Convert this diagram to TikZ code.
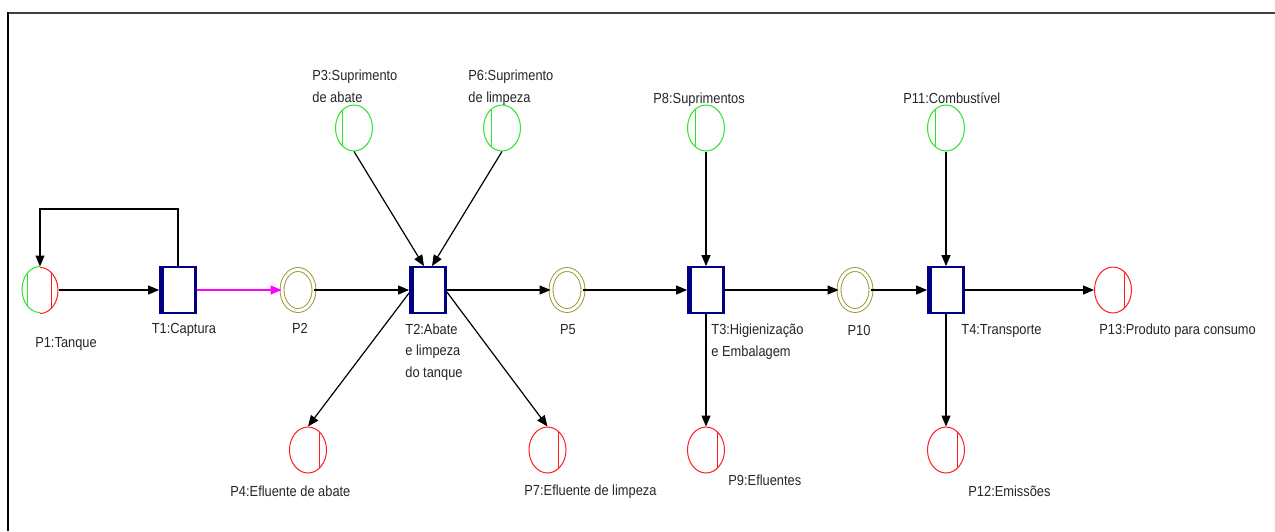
\documentclass[tikz,border=0pt]{standalone}
\usepackage{fontspec}
\setmainfont{Liberation Sans}[FakeStretch=0.88]
\usetikzlibrary{shapes.geometric,arrows.meta,calc}
\definecolor{pgreen}{RGB}{40,230,40}
\definecolor{pred}{RGB}{255,30,30}
\definecolor{tnavy}{RGB}{0,0,128}
\definecolor{polive}{RGB}{150,150,40}
\definecolor{fire}{RGB}{255,0,255}

\begin{document}
\begin{tikzpicture}[x=0.5pt,y=0.5pt,
  pl/.style={ellipse,minimum width=18.5pt,minimum height=23pt,inner sep=0pt,line width=0.5pt},
  pin/.style={pl,draw=pgreen},
  pout/.style={pl,draw=pred},
  pmid/.style={ellipse,minimum width=16pt,minimum height=20.5pt,inner sep=0pt,draw=polive,
    line width=0.45pt,double=white,double distance=1.5pt},
  trn/.style={rectangle,draw=tnavy,line width=0.9pt,minimum width=18pt,minimum height=23pt,
    inner sep=0pt,fill=white},
  flow/.style={line width=0.6pt,-{Triangle[length=5.5pt,width=4.5pt]}},
  lbl/.style={inner sep=0pt,font=\fontsize{7.3}{10.75}\selectfont,align=left,text=black!85},
]
\useasboundingbox (0,0) rectangle (1275,-531);
\fill[white] (0,0) rectangle (1275,-531);

% frame
\draw[line width=1pt,black!75] (7,-13.3) -- (1275,-13.3);
\draw[line width=1pt] (7.7,-12.3) -- (7.7,-531);

% places and transitions
\node[pl,minimum width=18pt] (P1) at (40,-290) {};
\node[trn] (T1) at (178,-290) {};
\node[pmid] (P2) at (298,-290) {};
\node[trn] (T2) at (428,-290) {};
\node[pmid] (P5) at (567,-290) {};
\node[trn] (T3) at (706,-290) {};
\node[pmid] (P10) at (855,-290) {};
\node[trn] (T4) at (946,-290) {};
\node[pout] (P13) at (1113,-290) {};

\node[pin] (P3) at (354,-128) {};
\node[pin] (P6) at (502,-128) {};
\node[pin] (P8) at (706,-128) {};
\node[pin] (P11) at (946,-128) {};

\node[pout] (P4) at (308,-450) {};
\node[pout] (P7) at (547.5,-450) {};
\node[pout] (P9) at (706,-450) {};
\node[pout] (P12) at (946,-450) {};

% P1: half green, half red
\draw[pgreen,line width=0.5pt] (P1.north) arc[start angle=90,end angle=270,x radius=9pt,y radius=11.5pt];
\draw[pred,line width=0.5pt] (P1.south) arc[start angle=-90,end angle=90,x radius=9pt,y radius=11.5pt];
\draw[pgreen,line width=0.5pt] ([shift={(P1.center)}]136:18 and 23) -- ([shift={(P1.center)}]224:18 and 23);
\draw[pred,line width=0.5pt] ([shift={(P1.center)}]52:18 and 23) -- ([shift={(P1.center)}]-52:18 and 23);

% chords inside the places
\foreach \p in {P3,P6,P8,P11}
  \draw[pgreen,line width=0.5pt] ([shift={(\p.center)}]126.5:18.5 and 23) -- ([shift={(\p.center)}]233.5:18.5 and 23);
\foreach \p in {P4,P7,P9,P12,P13}
  \draw[pred,line width=0.5pt] ([shift={(\p.center)}]53.5:18.5 and 23) -- ([shift={(\p.center)}]-53.5:18.5 and 23);

% heavier side edges of the transitions
\foreach \t in {T1,T2,T3,T4}{
  \draw[tnavy,line width=2.5pt] ([xshift=1.25pt]\t.north west) -- ([xshift=1.25pt]\t.south west);
  \draw[tnavy,line width=1.6pt] ([xshift=-0.8pt]\t.north east) -- ([xshift=-0.8pt]\t.south east);
}

% labels (multi-line labels are placed by the baseline of their last line)
\node[lbl,anchor=base] (lP1) at (66,-347) {P1:Tanque};
\node[lbl,anchor=base] (lT1) at (184,-333) {T1:Captura};
\node[lbl,anchor=base] (lP2) at (300,-333) {P2};
\node[lbl,anchor=base west] (lP3) at (312,-102) {P3:Suprimento\\de abate};
\node[lbl,anchor=base west] (lP6) at (468,-102) {P6:Suprimento\\de limpeza};
\node[lbl,anchor=base west] (lT2) at (405,-377) {T2:Abate\\e limpeza\\do tanque};
\node[lbl,anchor=base] (lP5) at (568,-334) {P5};
\node[lbl,anchor=base west] (lP4) at (230,-496) {P4:Efluente de abate};
\node[lbl,anchor=base west] (lP7) at (524,-495) {P7:Efluente de limpeza};
\node[lbl,anchor=base west] (lP8) at (653,-103) {P8:Suprimentos};
\node[lbl,anchor=base west] (lT3) at (711,-356) {T3:Higienização\\e Embalagem};
\node[lbl,anchor=base] (lP10) at (859,-335) {P10};
\node[lbl,anchor=base west] (lP9) at (728,-485) {P9:Efluentes};
\node[lbl,anchor=base west] (lP11) at (903,-103) {P11:Combustível};
\node[lbl,anchor=base west] (lT4) at (961,-334) {T4:Transporte};
\node[lbl,anchor=base west] (lP13) at (1099,-334) {P13:Produto para consumo};
\node[lbl,anchor=base west] (lP12) at (968,-496) {P12:Emissões};

% arcs of the net
\coordinate (lp) at (40,-209);
\draw[flow] (P1) -- (T1);
\draw[flow] (T1.north) |- (lp) -- (P1);
\draw[flow,fire] (T1) -- (P2);
\draw[flow] (P2) -- (T2);
\draw[flow] (T2) -- (P5);
\draw[flow] (P5) -- (T3);
\draw[flow] (T3) -- (P10);
\draw[flow] (P10) -- (T4);
\draw[flow] (T4) -- (P13);
\draw[flow] (P3.south) -- ($(T2.north)+(-4,0)$);
\draw[flow] (P6.south) -- ($(T2.north)+(4,0)$);
\draw[flow] ($(T2.west)+(0,-3)$) -- (P4.north);
\draw[flow] ($(T2.east)+(0,-2)$) -- (P7.north);
\draw[flow] (P8) -- (T3);
\draw[flow] (T3) -- (P9);
\draw[flow] (P11) -- (T4);
\draw[flow] (T4) -- (P12);
\end{tikzpicture}
\end{document}
